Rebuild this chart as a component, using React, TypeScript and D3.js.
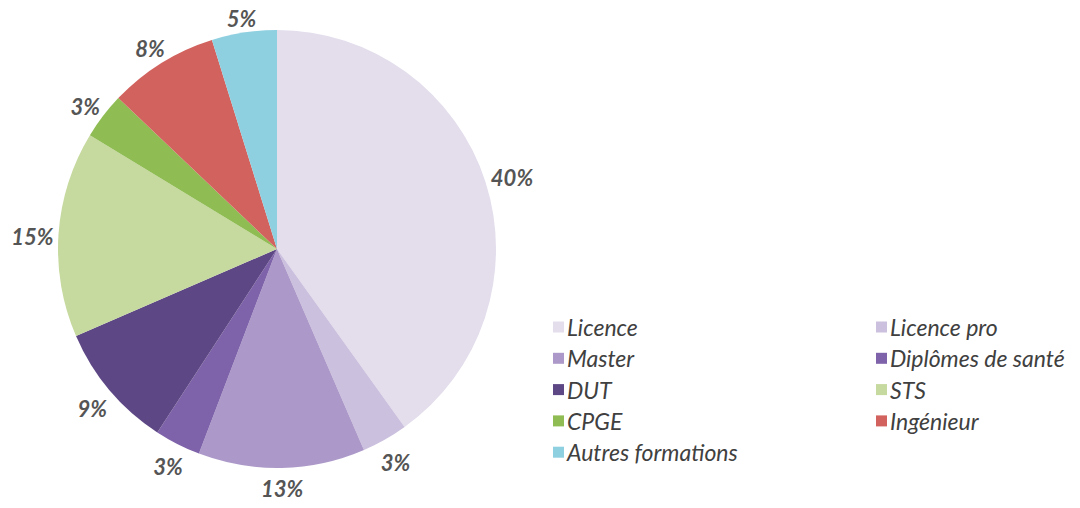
import React from "react";
import * as d3 from "d3";

const categories = [
  "Licence",
  "Licence pro",
  "Master",
  "Diplômes de santé",
  "DUT",
  "STS",
  "CPGE",
  "Ingénieur",
  "Autres formations",
];
const shares = [40.1, 3.4, 12.3, 3.4, 9.3, 15.2, 3.4, 8.1, 4.8];
const percentLabels = ["40%", "3%", "13%", "3%", "9%", "15%", "3%", "8%", "5%"];
const colors = [
  "#e3ddec",
  "#cbc0de",
  "#ac99c9",
  "#7f63aa",
  "#5d4785",
  "#c6d99e",
  "#8fbc53",
  "#d1625e",
  "#8ecfe0",
];

const W = 1080;
const H = 508;

export default function App() {
  const cx = 277;
  const cy = 249;
  const r = 219;
  const pie = d3
    .pie<number>()
    .sort(null)
    .value((d) => d);
  const arcs = pie(shares);
  const arc = d3.arc<d3.PieArcDatum<number>>().innerRadius(0).outerRadius(r);

  const labelFont = 22;
  const labelW = (s: string) => s.length * labelFont * 0.62;
  const labelH = labelFont;
  const gap = 5;
  const labelDy = 4;

  const legendX = [553, 876];
  const legendY0 = 327;
  const legendDy = 31.3;

  return (
    <svg
      width={W}
      height={H}
      style={{ position: "absolute", left: 0, top: 0, background: "#fff" }}
    >
      <g transform={`translate(${cx},${cy})`}>
        {arcs.map((a, i) => (
          <path key={i} d={arc(a) || ""} fill={colors[i]} />
        ))}
        {arcs.map((a, i) => {
          const mid = (a.startAngle + a.endAngle) / 2;
          const s = Math.sin(mid);
          const c = -Math.cos(mid);
          const ext =
            (Math.abs(s) * labelW(percentLabels[i])) / 2 +
            (Math.abs(c) * labelH) / 2;
          const R = r + gap + ext;
          return (
            <text
              key={i}
              x={R * s}
              y={R * c + labelDy}
              textAnchor="middle"
              dominantBaseline="central"
              fontFamily="Lato, 'Open Sans', sans-serif"
              fontStyle="italic"
              fontWeight="bold"
              fontSize={labelFont}
              fill="#555"
            >
              {percentLabels[i]}
            </text>
          );
        })}
      </g>
      <g>
        {categories.map((cat, i) => {
          const col = i % 2;
          const row = Math.floor(i / 2);
          const x = legendX[col];
          const y = legendY0 + row * legendDy;
          return (
            <g key={i} transform={`translate(${x},${y})`}>
              <rect x={0} y={-5.5} width={11} height={11} fill={colors[i]} />
              <text
                x={14}
                y={0}
                dominantBaseline="central"
                fontFamily="Lato, 'Open Sans', sans-serif"
                fontStyle="italic"
                fontSize={23}
                fill="#404040"
              >
                {cat}
              </text>
            </g>
          );
        })}
      </g>
    </svg>
  );
}
